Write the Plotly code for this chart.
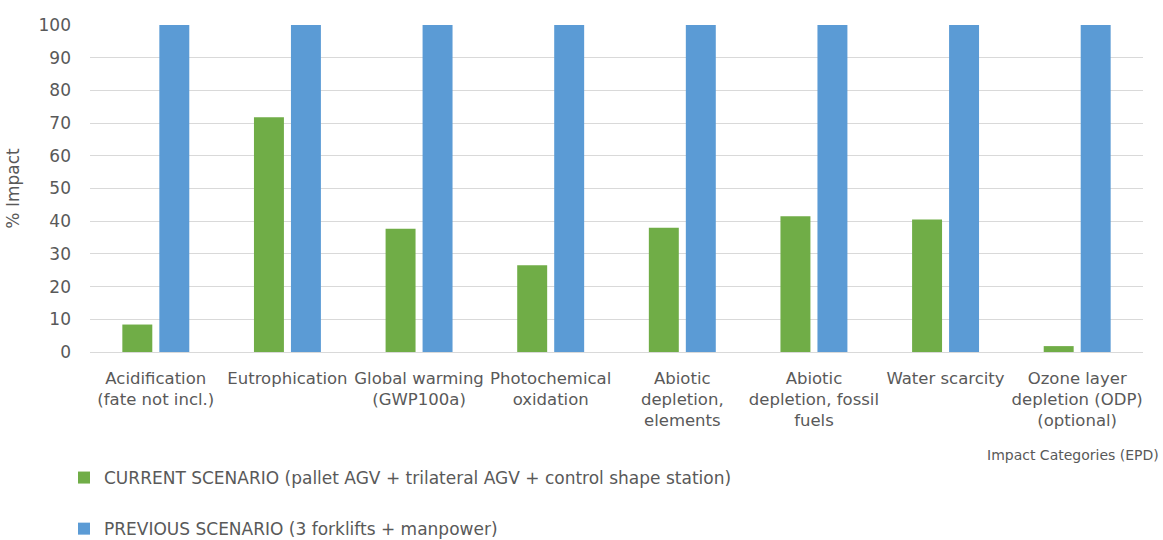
import plotly.graph_objects as go

categories = [
    "Acidification<br>(fate not incl.)",
    "Eutrophication",
    "Global warming<br>(GWP100a)",
    "Photochemical<br>oxidation",
    "Abiotic<br>depletion,<br>elements",
    "Abiotic<br>depletion, fossil<br>fuels",
    "Water scarcity",
    "Ozone layer<br>depletion (ODP)<br>(optional)",
]
current = [8.4, 71.8, 37.7, 26.5, 38.0, 41.5, 40.5, 1.8]
previous = [100, 100, 100, 100, 100, 100, 100, 100]
y_ticks = [0, 10, 20, 30, 40, 50, 60, 70, 80, 90, 100]

FONT = "DejaVu Sans"
TXT = "#595959"
W, H = 1163, 540
L, R, T, B = 90, 20, 25, 188
PH = H - T - B
PW = W - L - R

fig = go.Figure()
fig.add_trace(go.Bar(
    x=categories, y=current,
    name="CURRENT SCENARIO (pallet AGV + trilateral AGV + control shape station)",
    marker=dict(color="#70ad47", line=dict(width=0)),
    legendgroup="current",
))
fig.add_trace(go.Bar(
    x=categories, y=previous,
    name="PREVIOUS SCENARIO (3 forklifts + manpower)",
    marker=dict(color="#5b9bd5", line=dict(width=0)),
    legendgroup="previous",
))

fig.update_layout(
    width=W, height=H,
    margin=dict(l=L, r=R, t=T, b=B, autoexpand=False),
    paper_bgcolor="white", plot_bgcolor="white",
    font=dict(family=FONT, size=15, color=TXT),
    barmode="group", bargap=0.438, bargroupgap=0.19,
    legend=dict(
        x=(64 - L) / PW, y=-(460 - (T + PH)) / PH,
        xanchor="left", yanchor="top", orientation="v",
        traceorder="grouped", tracegroupgap=26,
        font=dict(family=FONT, size=17, color=TXT), bgcolor="rgba(0,0,0,0)",
        itemwidth=30,
    ),
    xaxis=dict(
        showgrid=False, showline=False, ticks="", tickangle=0,
        tickfont=dict(family=FONT, size=16.5, color=TXT),
        ticklabelstandoff=14,
    ),
    yaxis=dict(
        range=[0, 100], tickvals=y_ticks, showgrid=True,
        gridcolor="#d9d9d9", gridwidth=1.3,
        zeroline=True, zerolinecolor="#d9d9d9", zerolinewidth=1.3,
        showline=False, ticks="",
        tickfont=dict(family=FONT, size=17, color=TXT),
        ticklabelstandoff=18,
        title=dict(text="% Impact", font=dict(family=FONT, size=17, color=TXT), standoff=14),
    ),
    annotations=[dict(
        text="Impact Categories (EPD)", xref="paper", yref="paper",
        x=1.0 + 18 / PW, y=-(455 - (T + PH)) / PH, xanchor="right", yanchor="middle",
        showarrow=False, font=dict(family=FONT, size=14, color=TXT),
    )],
)

fig.write_html("out.html", config={"displayModeBar": False},
               post_script="document.body.style.margin='0';")
